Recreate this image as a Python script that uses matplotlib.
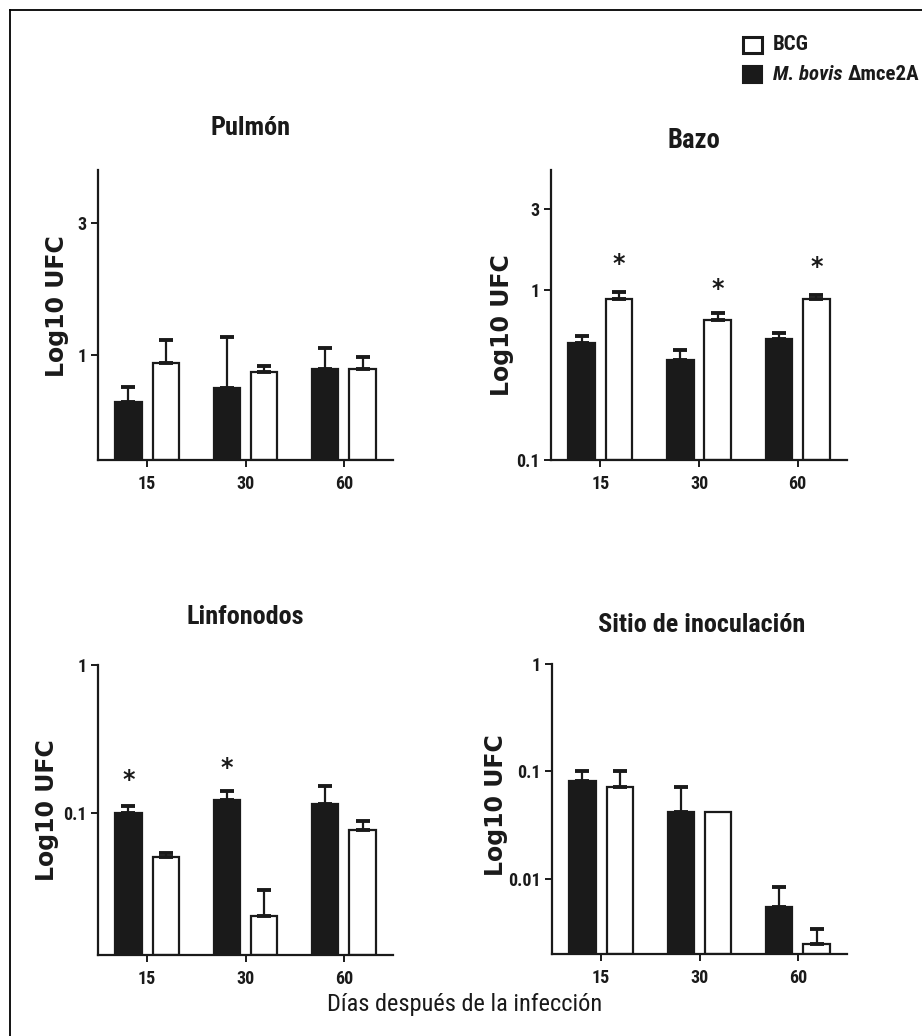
import os
import matplotlib
matplotlib.use("Agg")
import matplotlib.pyplot as plt
from matplotlib.lines import Line2D
from matplotlib.patches import Rectangle
from matplotlib import font_manager as fm
from matplotlib.font_manager import FontProperties
import numpy as np

# ---------------- data ----------------
days = ['15', '30', '60']

pulmon_mut = [0.676, 0.76, 0.889]
pulmon_mut_err = [0.766, 1.16, 1.06]
pulmon_bcg = [0.935, 0.868, 0.889]
pulmon_bcg_err = [1.13, 0.912, 0.984]

bazo_mut = [0.488, 0.387, 0.515]
bazo_mut_err = [0.536, 0.443, 0.558]
bazo_bcg = [0.885, 0.667, 0.885]
bazo_bcg_err = [0.97, 0.733, 0.935]

linf_mut = [0.100, 0.122, 0.115]
linf_mut_err = [0.111, 0.141, 0.152]
linf_bcg = [0.0504, 0.0201, 0.0767]
linf_bcg_err = [0.0537, 0.030, 0.0883]

sitio_mut = [0.082, 0.042, 0.0055]
sitio_mut_err = [0.100, 0.071, 0.0084]
sitio_bcg = [0.072, 0.042, 0.0025]
sitio_bcg_err = [0.100, 0.042, 0.0034]

# significance stars: (series, index, y)
bazo_stars = [('bcg', 0, 1.42), ('bcg', 1, 1.01), ('bcg', 2, 1.37)]
linf_stars = [('mut', 0, 0.167), ('mut', 1, 0.201)]

titles = ['Pulmón', 'Bazo', 'Linfonodos', 'Sitio de inoculación']
ylabel = 'Log10 UFC'
xlabel = 'Días después de la infección'
legend_bcg = 'BCG'
legend_mut_it = 'M. bovis '
legend_mut_rm = 'Δmce2A'

# ---------------- fonts ----------------
def _wnum(w):
    if isinstance(w, (int, float)):
        return int(w)
    m = {'ultralight': 100, 'light': 300, 'normal': 400, 'regular': 400, 'book': 400,
         'medium': 500, 'roman': 400, 'semibold': 600, 'demibold': 600, 'demi': 600,
         'bold': 700, 'heavy': 800, 'extra bold': 800, 'black': 900}
    return m.get(str(w).lower(), 400)


def pick_font(bold, italic):
    prefs = ['Liberation Sans Narrow', 'Arial Narrow', 'Nimbus Sans Narrow', 'Roboto Condensed',
             'Noto Sans', 'DejaVu Sans', 'Open Sans']
    want_style = 'italic' if italic else 'normal'
    for pref in prefs:
        for f in fm.fontManager.ttflist:
            base = os.path.basename(f.fname).lower()
            nm = f.name.lower()
            cond = ('narrow' in nm or 'condensed' in nm or 'narrow' in base or
                    'condensed' in base or f.stretch == 'condensed')
            if not cond:
                continue
            if any(k in base for k in ('extra', 'ultra', 'semi', 'mono')):
                continue
            if not f.name.lower().startswith(pref.lower()):
                continue
            st = f.style if f.style != 'oblique' else 'italic'
            if st != want_style:
                continue
            w = _wnum(f.weight)
            if bold and not (650 <= w <= 720):
                continue
            if not bold and not (380 <= w <= 520):
                continue
            return FontProperties(fname=f.fname), True
    return FontProperties(family=['Liberation Sans', 'DejaVu Sans'],
                          weight='bold' if bold else 'normal',
                          style='italic' if italic else 'normal'), False


FP_B, IS_NARROW = pick_font(True, False)
FP_BI, _ = pick_font(True, True)
FP_R, _ = pick_font(False, False)
WIDE = FontProperties(family=['DejaVu Sans'], weight='bold')

# ---------------- layout ----------------
W, H = 922, 1036
fig = plt.figure(figsize=(W / 100, H / 100), dpi=100)
fig.patch.set_facecolor('white')
R = fig.canvas.get_renderer()
BLACK = '#1a1a1a'


def px_axes(left, top, right, bottom):
    return fig.add_axes([left / W, 1 - bottom / H, (right - left) / W, (bottom - top) / H])


def text_width(s, fp, fs):
    t = fig.text(0, 0, s, fontproperties=fp.copy())
    t.set_fontsize(fs)
    w = t.get_window_extent(R).width
    t.remove()
    return w


def blend_fs(s, fp, target_w, height_fs, fs0=20.0, wh=0.4):
    """Weighted geometric mean of width-fitted and height-fitted font sizes."""
    fs_w = fs0 * target_w / text_width(s, fp, fs0)
    return float(fs_w ** wh * height_fs ** (1 - wh))


def put_text(xp, yp, s, fp, fs, **kw):
    t = fig.text(xp / W, 1 - yp / H, s, fontproperties=fp.copy(), color=BLACK, **kw)
    t.set_fontsize(fs)
    return t


tick_fs = 13.0 if IS_NARROW else 11.5

panels = [
    dict(box=(98, 170, 393, 460), ylim=(0.417, 4.66), yticks=[1, 3], ylabels=['1', '3'],
         mut=pulmon_mut, mut_err=pulmon_mut_err, bcg=pulmon_bcg, bcg_err=pulmon_bcg_err,
         stars=[], title_xy=(250, 128), title_w=74, ylab_xy=(57, 306)),
    dict(box=(551, 170, 847, 460), ylim=(0.1, 5.08), yticks=[0.1, 1, 3], ylabels=['0.1', '1', '3'],
         mut=bazo_mut, mut_err=bazo_mut_err, bcg=bazo_bcg, bcg_err=bazo_bcg_err,
         stars=bazo_stars, title_xy=(694, 140), title_w=50, ylab_xy=(502, 325)),
    dict(box=(98, 665, 393, 955), ylim=(0.011, 1.0), yticks=[0.1, 1], ylabels=['0.1', '1'],
         mut=linf_mut, mut_err=linf_mut_err, bcg=linf_bcg, bcg_err=linf_bcg_err,
         stars=linf_stars, title_xy=(245, 617), title_w=109, ylab_xy=(47, 810)),
    dict(box=(552, 664, 847, 954), ylim=(0.002, 1.0), yticks=[0.01, 0.1, 1], ylabels=['0.01', '0.1', '1'],
         mut=sitio_mut, mut_err=sitio_mut_err, bcg=sitio_bcg, bcg_err=sitio_bcg_err,
         stars=[], title_xy=(702, 625), title_w=191, ylab_xy=(496, 805)),
]

x = np.arange(len(days))
bw = 0.27
off = 0.19

for i, p in enumerate(panels):
    ax = px_axes(*p['box'])
    ax.set_yscale('log')
    ax.set_xlim(-0.5, 2.5)
    ax.set_ylim(*p['ylim'])
    base = p['ylim'][0]
    for vals, errs, pos, fc in [(p['mut'], p['mut_err'], x - off, BLACK),
                                (p['bcg'], p['bcg_err'], x + off, 'white')]:
        heights = [v - base for v in vals]
        ax.bar(pos, heights, bottom=base, width=bw, color=fc, edgecolor=BLACK,
               linewidth=1.6, zorder=2)
        for xi, v, e in zip(pos, vals, errs):
            if e > v * 1.001:
                ax.errorbar([xi], [v], yerr=[[0], [e - v]], fmt='none', ecolor=BLACK,
                            elinewidth=1.6, capsize=5, capthick=2.8, zorder=3)
    for ser, idx, yv in p['stars']:
        xs = x[idx] + (off if ser == 'bcg' else -off)
        st = ax.text(xs, yv, '*', ha='center', va='center',
                     fontproperties=WIDE.copy(), color=BLACK)
        st.set_fontsize(17)
    ax.yaxis.set_minor_locator(matplotlib.ticker.NullLocator())
    ax.set_yticks(p['yticks'])
    ax.set_yticklabels(p['ylabels'])
    ax.set_xticks(x)
    ax.set_xticklabels(days)
    for s in ['top', 'right']:
        ax.spines[s].set_visible(False)
    for s in ['left', 'bottom']:
        ax.spines[s].set_linewidth(1.6)
        ax.spines[s].set_color(BLACK)
    ax.tick_params(axis='both', which='major', direction='out', length=5, width=1.4,
                   color=BLACK, pad=3)
    ax.tick_params(axis='x', pad=6)
    for lab in ax.get_xticklabels() + ax.get_yticklabels():
        lab.set_fontproperties(FP_B.copy())
        lab.set_fontsize(tick_fs)
        lab.set_color(BLACK)
    ax.set_facecolor('none')
    tx, ty = p['title_xy']
    put_text(tx, ty, titles[i], FP_B, blend_fs(titles[i], FP_B, p['title_w'], 20.0),
             ha='center', va='center')
    lx, ly = p['ylab_xy']
    yl = fig.text(lx / W, 1 - ly / H, ylabel, ha='center', va='center', rotation=90,
                  fontproperties=WIDE.copy(), color=BLACK)
    yl.set_fontsize(17)

# common x label
put_text(465, 1004, xlabel, FP_R, blend_fs(xlabel, FP_R, 265.0, 18.0),
         ha='center', va='center')

# legend
fig.add_artist(Rectangle((743 / W, 1 - 53 / H), 19 / W, 16 / H, transform=fig.transFigure,
                         facecolor='white', edgecolor=BLACK, linewidth=2.2))
fig.add_artist(Rectangle((743 / W, 1 - 83 / H), 19 / W, 17 / H, transform=fig.transFigure,
                         facecolor=BLACK, edgecolor=BLACK, linewidth=1.5))
leg_fs0 = 15.0
w_total = text_width(legend_mut_it, FP_BI, leg_fs0) + text_width(legend_mut_rm, FP_B, leg_fs0)
leg_fs = min(15.0, leg_fs0 * 146.0 / w_total)
put_text(773, 45, legend_bcg, FP_B, leg_fs, ha='left', va='center')
t1 = put_text(773, 75, legend_mut_it, FP_BI, leg_fs, ha='left', va='center')
bb = t1.get_window_extent(R)
put_text(bb.x1, 75, legend_mut_rm, FP_B, leg_fs, ha='left', va='center')

# frame lines (left and top)
fig.add_artist(Line2D([9.5 / W, 9.5 / W], [0, 1 - 10 / H], transform=fig.transFigure,
                      color='black', linewidth=1.3))
fig.add_artist(Line2D([9.5 / W, 1], [1 - 10 / H, 1 - 10 / H], transform=fig.transFigure,
                      color='black', linewidth=1.3))

fig.savefig('out.png', dpi=100, facecolor='white')
